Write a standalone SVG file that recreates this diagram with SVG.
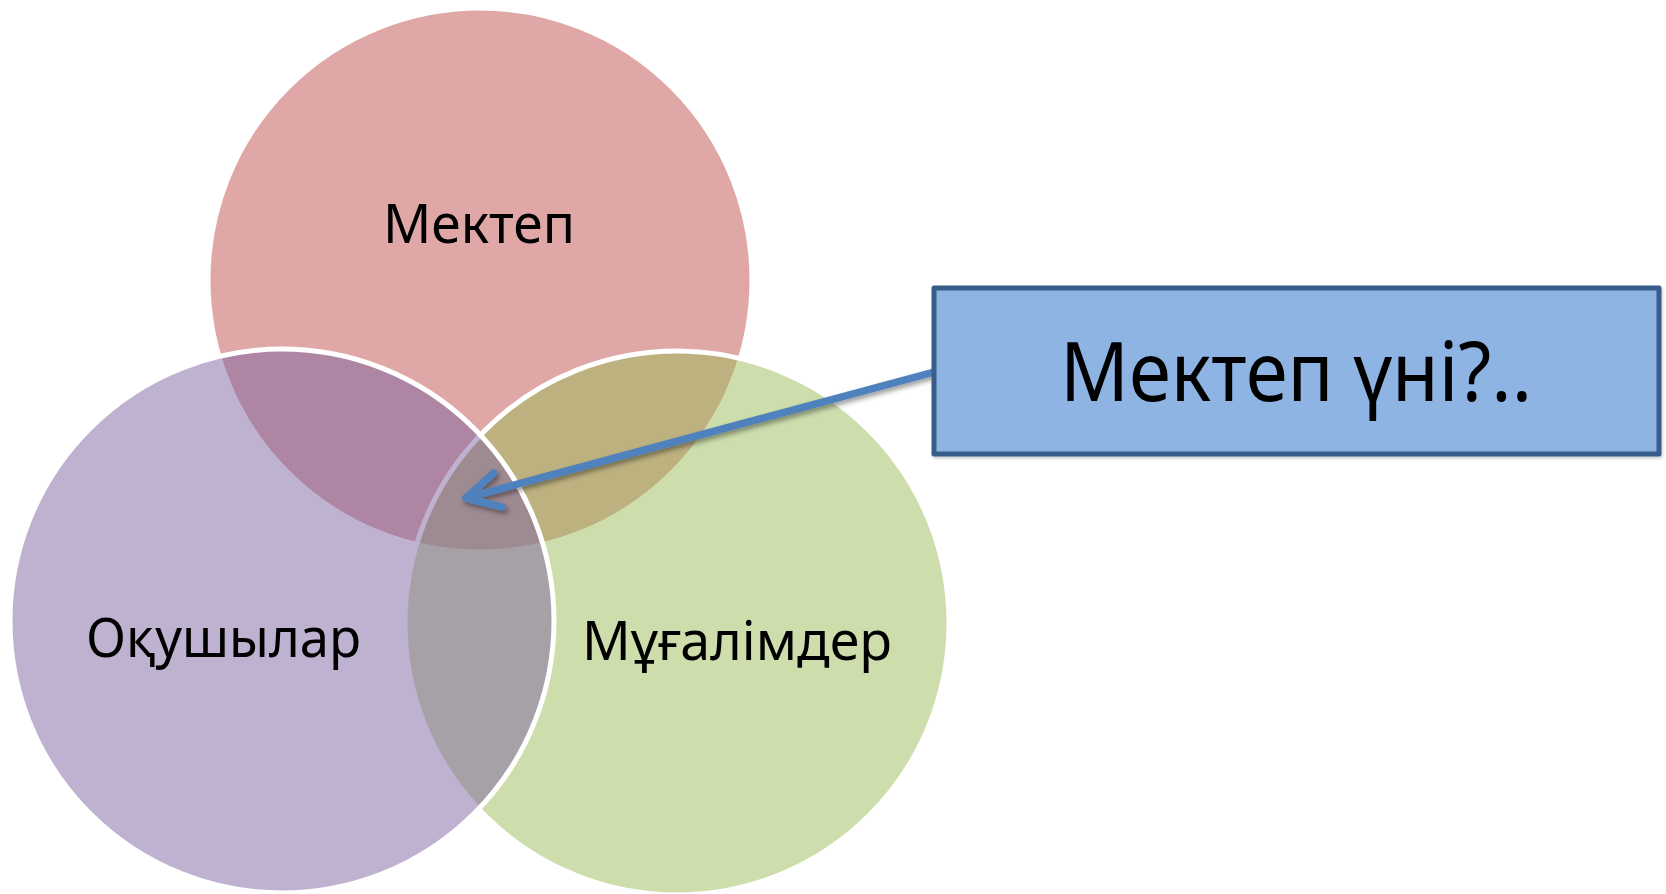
<svg xmlns="http://www.w3.org/2000/svg" width="1666" height="894" viewBox="0 0 1666 894">
  <defs>
    <style>
      .circle { stroke: #FFFFFF; stroke-width: 5; fill-opacity: 0.5; }
      .label { font-family: "Noto Sans", "DejaVu Sans", sans-serif; font-size: 55px; fill: #000000; }
      .boxlabel { font-family: "Noto Sans", "DejaVu Sans", sans-serif; font-size: 83px; fill: #000000; }
      .conn { fill: none; stroke: #4F81BD; stroke-width: 7.5; stroke-linecap: round; stroke-linejoin: round; }
    </style>
    <filter id="shadow" x="-10%" y="-30%" width="120%" height="160%">
      <feDropShadow dx="2" dy="3" stdDeviation="2.5" flood-color="#000000" flood-opacity="0.4"/>
    </filter>
    <filter id="boxshadow" x="-5%" y="-10%" width="110%" height="125%">
      <feDropShadow dx="1" dy="2" stdDeviation="1.5" flood-color="#000000" flood-opacity="0.2"/>
    </filter>
  </defs>
  <rect width="1666" height="894" fill="#FFFFFF"/>

  <g id="node-mektep">
    <circle class="circle" cx="480" cy="280" r="272" fill="#C0504D"/>
  </g>
  <g id="node-mugalimder">
    <circle class="circle" cx="677" cy="623" r="272" fill="#9BBB59"/>
  </g>
  <g id="node-okushylar">
    <circle class="circle" cx="282" cy="621" r="272" fill="#8064A2"/>
  </g>

  <g id="labels">
    <text class="label" x="383" y="243" textLength="192" lengthAdjust="spacingAndGlyphs">Мектеп</text>
    <text class="label" x="86" y="657" textLength="275" lengthAdjust="spacingAndGlyphs">Оқушылар</text>
    <text class="label" x="582" y="660" textLength="310" lengthAdjust="spacingAndGlyphs">Мұғалімдер</text>
  </g>

  <g id="connectors" filter="url(#shadow)">
    <path class="conn" d="M 936 371.5 L 466 498"/>
    <path class="conn" d="M 493.6 473.1 L 466 498 L 502 507.2"/>
  </g>

  <g id="node-callout">
    <rect x="934" y="288" width="725" height="166" fill="#8EB4E3" stroke="#385D8A" stroke-width="5" stroke-linejoin="round" filter="url(#boxshadow)"/>
    <text class="boxlabel" x="1060" y="401" textLength="472" lengthAdjust="spacingAndGlyphs">Мектеп үні?..</text>
  </g>
</svg>
